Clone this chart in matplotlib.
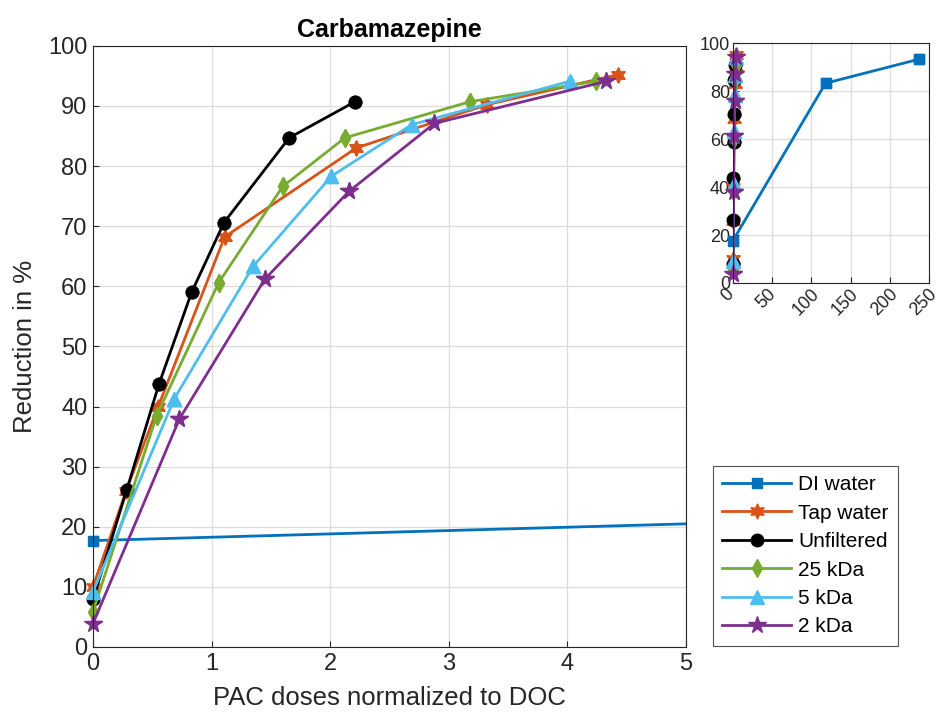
import matplotlib
matplotlib.use('Agg')
import matplotlib.pyplot as plt
import matplotlib.transforms as mtrans

plt.rcParams['font.family'] = ['Liberation Sans', 'DejaVu Sans']

## ::: Data ::: ##
di_x = [0, 118, 237]
di_y = [17.7, 83.3, 93.3]

tap_x = [0, 0.28, 0.55, 1.11, 2.22, 3.32, 4.43]
tap_y = [10.0, 26.0, 40.0, 68.2, 83.0, 90.2, 95.2]

unf_x = [0, 0.284, 0.556, 0.832, 1.105, 1.655, 2.21]
unf_y = [7.9, 26.1, 43.7, 59.0, 70.6, 84.7, 90.7]

k25_x = [0, 0.537, 1.06, 1.60, 2.125, 3.18, 4.24]
k25_y = [5.9, 38.5, 60.6, 76.6, 84.7, 90.7, 94.1]

k5_x = [0, 0.686, 1.35, 2.01, 2.69, 4.02]
k5_y = [9.2, 41.3, 63.3, 78.3, 86.9, 94.1]

k2_x = [0, 0.728, 1.45, 2.16, 2.88, 4.33]
k2_y = [3.9, 37.9, 61.2, 75.8, 87.1, 94.1]

labels = ['DI water', 'Tap water', 'Unfiltered', '25 kDa', '5 kDa', '2 kDa']

# (x, y, colour, marker, marker size)
series = [
    (di_x, di_y, '#0072BD', 's', 7),
    (tap_x, tap_y, '#D95319', (6, 1, 0), 11),   # -> hexagram-like star
    (unf_x, unf_y, '#000000', 'o', 9),
    (k25_x, k25_y, '#77AC30', 'd', 9),
    (k5_x, k5_y, '#4DBEEE', '^', 10),
    (k2_x, k2_y, '#7E2F8E', '*', 13),
]


def style_ax(ax, size, pad=4):
    ax.grid(True, color='#dcdcdc', linewidth=0.9)
    ax.set_axisbelow(True)
    ax.tick_params(direction='in', labelsize=size, colors='#262626', length=4, pad=pad)
    for s in ax.spines.values():
        s.set_color('#262626')
        s.set_linewidth(0.8)


def draw(ax, xmax):
    hs = []
    for (x, y, c, m, ms), lab in zip(series, labels):
        # line clipped to the axes, markers inside the range left unclipped
        h, = ax.plot(x, y, color=c, marker=m, markersize=ms, linewidth=2,
                     markerfacecolor=c, markeredgecolor=c, label=lab)
        px = [a for a in x if a <= xmax]
        py = [b for a, b in zip(x, y) if a <= xmax]
        ax.plot(px, py, linestyle='none', marker=m, markersize=ms,
                markerfacecolor=c, markeredgecolor=c, clip_on=False)
        hs.append(h)
    return hs


fig = plt.figure(figsize=[9.44, 7.2], dpi=100)

## ::: Main axes ::: ##
ax = fig.add_axes([0.0985, 0.1014, 0.628, 0.835])
handles = draw(ax, 5)
ax.set_xlim(0, 5)
ax.set_ylim(0, 100)
ax.set_xticks(range(0, 6))
ax.set_yticks(range(0, 101, 10))
style_ax(ax, 17)
ax.set_xlabel('PAC doses normalized to DOC', fontsize=18.5, color='#262626', labelpad=8)
ax.set_ylabel('Reduction in %', fontsize=18.5, color='#262626', labelpad=8)
ax.set_title('Carbamazepine', fontsize=18, fontweight='bold', pad=6)

## ::: Inset axes ::: ##
ins = fig.add_axes([0.7765, 0.607, 0.2076, 0.333])
draw(ins, 250)
ins.set_xlim(0, 250)
ins.set_ylim(0, 100)
ins.set_xticks(range(0, 251, 50))
ins.set_yticks(range(0, 101, 20))
style_ax(ins, 13, pad=2)
shift = mtrans.ScaledTranslation(-4 / 72, 0, fig.dpi_scale_trans)
for t in ins.get_xticklabels():
    t.set_rotation(45)
    t.set_ha('center')
    t.set_va('top')
    t.set_transform(t.get_transform() + shift)

## ::: Legend ::: ##
leg = fig.legend(handles=handles, labels=labels, loc='upper left',
                 bbox_to_anchor=(713 / 944, 1 - 466 / 720), fontsize=15,
                 frameon=True, fancybox=False, edgecolor='#262626',
                 handlelength=3.3, handletextpad=0.33, labelspacing=0.45,
                 borderpad=0.45, borderaxespad=0)
leg.get_frame().set_linewidth(0.8)

plt.savefig('out.png', dpi=100)
